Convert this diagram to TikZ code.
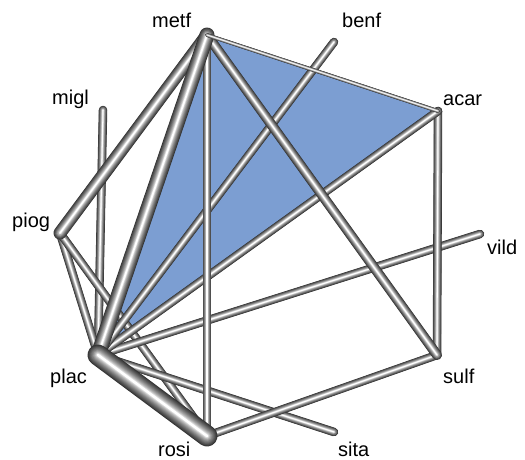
\documentclass[tikz,border=0pt]{standalone}
\usepackage{fontspec}
\setmainfont{Liberation Sans}
\usetikzlibrary{positioning}

\definecolor{triblue}{RGB}{124,158,210}

\tikzset{
  lab/.style={font=\fontsize{20}{20}\selectfont, inner sep=0pt, anchor=base west},
}

% shaded tube from #1 to #2, width #3
\newcommand{\tubeedge}[3]{%
  \foreach \k in {0,...,11}{
    \pgfmathsetmacro{\lw}{#3*(1-\k/12.5)}
    \pgfmathtruncatemacro{\dk}{80*(1-\k/11)^0.7}
    \draw[line width=\lw pt, line cap=round, color=black!\dk] (#1) -- (#2);
  }}

\begin{document}
\begin{tikzpicture}[x=1pt,y=-1pt]
  \useasboundingbox (0,0) rectangle (525,459);

  % treatment positions
  \coordinate (metf) at (207,35);
  \coordinate (benf) at (334,42);
  \coordinate (acar) at (438,111);
  \coordinate (vild) at (480,234);
  \coordinate (sulf) at (437,355);
  \coordinate (sita) at (334,432);
  \coordinate (rosi) at (207,436);
  \coordinate (plac) at (98,355);
  \coordinate (piog) at (60,233);
  \coordinate (migl) at (103,110);

  % multi-arm study
  \fill[triblue] (metf) -- (acar) -- (plac) -- cycle;

  % comparisons
  \foreach \a/\b/\w in {migl/plac/8.5, piog/plac/8.5, piog/rosi/8.5, sita/plac/8.5,
      sulf/rosi/8.5, vild/plac/8.5, acar/sulf/8.5, acar/plac/8.5, benf/plac/8.5,
      metf/rosi/8.5, metf/sulf/10, metf/piog/13, metf/plac/15, plac/rosi/21,
      metf/acar/3.8}{
    \tubeedge{\a}{\b}{\w}
  }

  % labels
  \node[lab] (metfLab) at (152,27) {metf};
  \node[lab] (benfLab) at (342,27) {benf};
  \node[lab] (miglLab) at (52,104) {migl};
  \node[lab] (acarLab) at (443,105) {acar};
  \node[lab] (piogLab) at (12,227) {piog};
  \node[lab] (vildLab) at (487,254) {vild};
  \node[lab] (placLab) at (50,383) {plac};
  \node[lab] (sulfLab) at (443,383) {sulf};
  \node[lab] (rosiLab) at (158,456) {rosi};
  \node[lab] (sitaLab) at (338,456) {sita};
\end{tikzpicture}
\end{document}
